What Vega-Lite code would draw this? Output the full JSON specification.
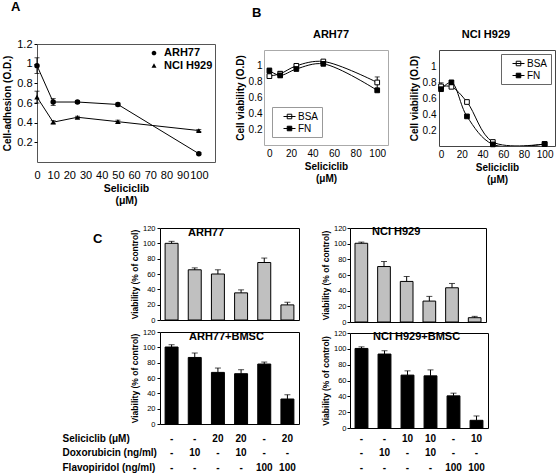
{
  "$schema": "https://vega.github.io/schema/vega-lite/v6.json",
  "padding": {"left": 2, "top": 0, "right": 0, "bottom": 0},
  "spacing": 17,
  "config": {
    "font": "Liberation Sans",
    "view": {"stroke": "black", "strokeWidth": 1},
    "axis": {"grid": false, "domain": false, "labelOverlap": false, "labelColor": "black", "titleColor": "black", "tickColor": "black", "labelFont": "Liberation Sans", "titleFont": "Liberation Sans"},
    "title": {"color": "black", "font": "Liberation Sans"},
    "legend": {"labelFont": "Liberation Sans", "labelColor": "black"}
  },
  "datasets": {
    "adh": [
      {"line": "ARH77", "dose": 0, "v": 0.98, "lo": 0.9, "hi": 1.06},
      {"line": "ARH77", "dose": 10, "v": 0.61, "lo": 0.575, "hi": 0.645},
      {"line": "ARH77", "dose": 25, "v": 0.61, "lo": 0.597, "hi": 0.623},
      {"line": "ARH77", "dose": 50, "v": 0.585, "lo": 0.57, "hi": 0.6},
      {"line": "ARH77", "dose": 100, "v": 0.085, "lo": 0.075, "hi": 0.095},
      {"line": "NCI H929", "dose": 0, "v": 0.66, "lo": 0.6, "hi": 0.72},
      {"line": "NCI H929", "dose": 10, "v": 0.405, "lo": 0.39, "hi": 0.42},
      {"line": "NCI H929", "dose": 25, "v": 0.455, "lo": 0.445, "hi": 0.465},
      {"line": "NCI H929", "dose": 50, "v": 0.41, "lo": 0.395, "hi": 0.425},
      {"line": "NCI H929", "dose": 100, "v": 0.32, "lo": 0.31, "hi": 0.33}
    ],
    "via": [
      {"cell": "ARH77", "series": "BSA", "dose": 0, "v": 0.87, "lo": 0.84, "hi": 0.9},
      {"cell": "ARH77", "series": "BSA", "dose": 10, "v": 0.9},
      {"cell": "ARH77", "series": "BSA", "dose": 25, "v": 1.0, "lo": 0.98, "hi": 1.02},
      {"cell": "ARH77", "series": "BSA", "dose": 50, "v": 1.055},
      {"cell": "ARH77", "series": "BSA", "dose": 100, "v": 0.79, "lo": 0.72, "hi": 0.86},
      {"cell": "ARH77", "series": "FN", "dose": 0, "v": 0.94, "lo": 0.91, "hi": 0.97},
      {"cell": "ARH77", "series": "FN", "dose": 10, "v": 0.88, "lo": 0.85, "hi": 0.93},
      {"cell": "ARH77", "series": "FN", "dose": 25, "v": 0.96},
      {"cell": "ARH77", "series": "FN", "dose": 50, "v": 1.025},
      {"cell": "ARH77", "series": "FN", "dose": 100, "v": 0.69},
      {"cell": "NCI H929", "series": "BSA", "dose": 0, "v": 0.745, "lo": 0.71, "hi": 0.79},
      {"cell": "NCI H929", "series": "BSA", "dose": 10, "v": 0.74},
      {"cell": "NCI H929", "series": "BSA", "dose": 25, "v": 0.55},
      {"cell": "NCI H929", "series": "BSA", "dose": 50, "v": 0.05},
      {"cell": "NCI H929", "series": "BSA", "dose": 100, "v": 0.025},
      {"cell": "NCI H929", "series": "FN", "dose": 0, "v": 0.71},
      {"cell": "NCI H929", "series": "FN", "dose": 10, "v": 0.795, "lo": 0.77, "hi": 0.82},
      {"cell": "NCI H929", "series": "FN", "dose": 25, "v": 0.37},
      {"cell": "NCI H929", "series": "FN", "dose": 50, "v": 0.02},
      {"cell": "NCI H929", "series": "FN", "dose": 100, "v": 0.025}
    ],
    "bars": [
      {"panel": "ARH77", "cond": "-|-|-", "v": 100, "hi": 102.6},
      {"panel": "ARH77", "cond": "-|10|-", "v": 65.5, "hi": 68},
      {"panel": "ARH77", "cond": "20|-|-", "v": 60, "hi": 65.5},
      {"panel": "ARH77", "cond": "20|10|-", "v": 35.4, "hi": 39.3},
      {"panel": "ARH77", "cond": "-|-|100", "v": 75, "hi": 80.8},
      {"panel": "ARH77", "cond": "20|-|100", "v": 19.7, "hi": 23},
      {"panel": "NCI", "cond": "-|-|-", "v": 100.5, "hi": 102},
      {"panel": "NCI", "cond": "-|10|-", "v": 70.8, "hi": 77.2},
      {"panel": "NCI", "cond": "10|-|-", "v": 51.8, "hi": 58.1},
      {"panel": "NCI", "cond": "10|10|-", "v": 26.7, "hi": 32.7},
      {"panel": "NCI", "cond": "-|-|100", "v": 43.7, "hi": 49.2},
      {"panel": "NCI", "cond": "10|-|100", "v": 5.5, "hi": 7.2},
      {"panel": "ARH77B", "cond": "-|-|-", "v": 100.4, "hi": 103.4},
      {"panel": "ARH77B", "cond": "-|10|-", "v": 86.8, "hi": 92.6},
      {"panel": "ARH77B", "cond": "20|-|-", "v": 67.3, "hi": 73},
      {"panel": "ARH77B", "cond": "20|10|-", "v": 65.6, "hi": 70.8},
      {"panel": "ARH77B", "cond": "-|-|100", "v": 78.2, "hi": 80.8},
      {"panel": "ARH77B", "cond": "20|-|100", "v": 32.6, "hi": 38.2},
      {"panel": "NCIB", "cond": "-|-|-", "v": 100.5, "hi": 102.5},
      {"panel": "NCIB", "cond": "-|10|-", "v": 93.4, "hi": 97.6},
      {"panel": "NCIB", "cond": "10|-|-", "v": 66.8, "hi": 72.2},
      {"panel": "NCIB", "cond": "10|10|-", "v": 65.9, "hi": 73.4},
      {"panel": "NCIB", "cond": "-|-|100", "v": 40.6, "hi": 44},
      {"panel": "NCIB", "cond": "10|-|100", "v": 9.7, "hi": 15.2}
    ]
  },
  "vconcat": [
    {
      "bounds": "flush",
      "spacing": 49,
      "hconcat": [
        {
          "width": 178,
          "height": 118,
          "view": {"stroke": "#555"},
          "title": {"text": "A", "anchor": "start", "frame": "group", "dx": -26, "offset": 24, "fontSize": 13, "fontWeight": "bold"},
          "data": {"name": "adh"},
          "encoding": {
            "x": {"field": "dose", "type": "quantitative", "scale": {"domain": [0, 110], "nice": false},
              "axis": {"values": [0, 10, 20, 30, 40, 50, 60, 70, 80, 90, 100], "tickCount": 100, "labelFlush": false, "labelOverlap": false, "ticks": false, "labelPadding": 7, "labelFontSize": 11, "title": ["Seliciclib", "(μM)"], "titleFontSize": 10.5, "titleFontWeight": "bold", "titlePadding": 3, "titleLineHeight": 12}}
          },
          "layer": [
            {"mark": {"type": "line", "color": "black", "strokeWidth": 1},
              "encoding": {"y": {"field": "v", "type": "quantitative", "scale": {"domain": [0, 1.2], "nice": false},
                "axis": {"values": [0.2, 0.4, 0.6, 0.8, 1, 1.2], "tickCount": 100, "format": "~g", "labelOverlap": false, "tickSize": 3, "labelPadding": 2, "labelFontSize": 11, "title": "Cell-adhesion (O.D.)", "titleFontSize": 10, "titleFontWeight": "bold", "titlePadding": 4}},
                "detail": {"field": "line"}}},
            {"mark": {"type": "rule", "color": "black", "strokeWidth": 1},
              "encoding": {"y": {"field": "lo", "type": "quantitative", "axis": {"title": "Cell-adhesion (O.D.)"}}, "y2": {"field": "hi"}}},
            {"mark": {"type": "tick", "color": "black", "orient": "horizontal", "size": 5, "thickness": 1},
              "encoding": {"y": {"field": "lo", "type": "quantitative", "axis": {"title": "Cell-adhesion (O.D.)"}}}},
            {"mark": {"type": "tick", "color": "black", "orient": "horizontal", "size": 5, "thickness": 1},
              "encoding": {"y": {"field": "hi", "type": "quantitative", "axis": {"title": "Cell-adhesion (O.D.)"}}}},
            {"mark": {"type": "point", "filled": true, "color": "black", "size": 30, "opacity": 1},
              "encoding": {"y": {"field": "v", "type": "quantitative", "axis": {"title": "Cell-adhesion (O.D.)"}},
                "shape": {"field": "line", "type": "nominal", "scale": {"domain": ["ARH77", "NCI H929"], "range": ["circle", "triangle-up"]}, "legend": null}}},
            {"data": {"values": []},
              "mark": {"type": "point", "filled": true, "color": "black", "opacity": 1},
              "encoding": {"shape": {"field": "line", "type": "nominal",
                "scale": {"domain": ["ARH77", "NCI H929"], "range": ["M-1,0H1M0.36,0A0.36,0.36,0,1,1,-0.36,0A0.36,0.36,0,1,1,0.36,0Z", "M-1,0H1M0,-0.42L0.38,0.28H-0.38Z"]},
                "legend": {"orient": "top-right", "offset": 2, "padding": 0, "title": null, "labelFontSize": 11, "labelFontWeight": "bold", "symbolSize": 169, "symbolStrokeWidth": 1, "symbolStrokeColor": "black", "symbolFillColor": "black", "labelOffset": 3, "rowPadding": 1}}}}
          ],
          "resolve": {"scale": {"shape": "independent"}}
        },
        {
          "bounds": "flush",
          "spacing": 5,
          "title": {"text": "B", "anchor": "start", "frame": "group", "dx": -12, "offset": 9, "fontSize": 13, "fontWeight": "bold"},
          "vconcat": [
            {"width": 1, "height": 1, "data": {"values": []}, "mark": "text", "encoding": {}, "view": {"stroke": null}},
            {
              "bounds": "flush",
              "spacing": 51,
              "hconcat": [
                {
                  "width": 124,
                  "height": 95,
                  "view": {"stroke": "#aaa"},
                  "title": {"text": "ARH77", "fontSize": 11, "fontWeight": "bold", "offset": 10, "dx": 5},
                  "data": {"name": "via"},
                  "transform": [{"filter": "datum.cell === 'ARH77'"}],
                  "encoding": {
                    "x": {"field": "dose", "type": "quantitative", "scale": {"domain": [-5, 110], "nice": false},
                      "axis": {"values": [0, 20, 40, 60, 80, 100], "tickCount": 100, "labelFlush": false, "labelOverlap": false, "ticks": false, "labelPadding": 3, "labelFontSize": 10, "title": ["Seliciclib", "(μM)"], "titleFontSize": 10, "titleFontWeight": "bold", "titlePadding": 3, "titleLineHeight": 12}}
                  },
                  "layer": [
                    {"mark": {"type": "line", "color": "black", "strokeWidth": 1, "interpolate": "catmull-rom", "clip": true},
                      "encoding": {"y": {"field": "v", "type": "quantitative", "scale": {"domain": [0, 1.2], "nice": false},
                        "axis": {"values": [0.2, 0.4, 0.6, 0.8, 1], "tickCount": 100, "format": "~g", "labelOverlap": false, "ticks": false, "labelPadding": 2, "labelFontSize": 10, "title": "Cell viability (O.D)", "titleFontSize": 10, "titleFontWeight": "bold", "titlePadding": 3}},
                        "detail": {"field": "series"}}},
                    {"mark": {"type": "rule", "color": "black", "strokeWidth": 1},
                      "encoding": {"y": {"field": "lo", "type": "quantitative", "axis": {"title": "Cell viability (O.D)"}}, "y2": {"field": "hi"}}},
                    {"mark": {"type": "tick", "color": "black", "orient": "horizontal", "size": 5, "thickness": 1},
                      "encoding": {"y": {"field": "lo", "type": "quantitative", "axis": {"title": "Cell viability (O.D)"}}}},
                    {"mark": {"type": "tick", "color": "black", "orient": "horizontal", "size": 5, "thickness": 1},
                      "encoding": {"y": {"field": "hi", "type": "quantitative", "axis": {"title": "Cell viability (O.D)"}}}},
                    {"mark": {"type": "point", "shape": "square", "filled": true, "stroke": "black", "strokeWidth": 1, "size": 22, "opacity": 1},
                      "encoding": {"y": {"field": "v", "type": "quantitative", "axis": {"title": "Cell viability (O.D)"}},
                        "fill": {"field": "series", "type": "nominal", "scale": {"domain": ["BSA", "FN"], "range": ["white", "black"]},
                          "legend": {"orient": "bottom-left", "offset": 8, "title": null, "padding": 3, "symbolOffset": 8, "strokeColor": "#999", "fillColor": "white", "labelFontSize": 10, "symbolType": "M-1,0H1M-0.38,-0.38H0.38V0.38H-0.38Z", "symbolSize": 144, "symbolStrokeColor": "black", "symbolStrokeWidth": 1, "rowPadding": -2, "labelOffset": 2, "labelExpr": "datum.label + '\u00a0\u00a0\u00a0\u00a0\u00a0\u00a0\u00a0'"}}}}
                  ]
                },
                {
                  "width": 116,
                  "height": 96,
                  "view": {"stroke": "#444"},
                  "title": {"text": "NCI H929", "fontSize": 11, "fontWeight": "bold", "offset": 10, "dx": -11},
                  "data": {"name": "via"},
                  "transform": [{"filter": "datum.cell === 'NCI H929'"}],
                  "encoding": {
                    "x": {"field": "dose", "type": "quantitative", "scale": {"domain": [-2, 110], "nice": false},
                      "axis": {"values": [0, 20, 40, 60, 80, 100], "tickCount": 100, "labelFlush": false, "labelOverlap": false, "ticks": false, "labelPadding": 3, "labelFontSize": 10, "title": ["Seliciclib", "(μM)"], "titleFontSize": 10, "titleFontWeight": "bold", "titlePadding": 3, "titleLineHeight": 12}}
                  },
                  "layer": [
                    {"mark": {"type": "line", "color": "black", "strokeWidth": 1, "interpolate": "catmull-rom", "clip": true},
                      "encoding": {"y": {"field": "v", "type": "quantitative", "scale": {"domain": [0, 1.2], "nice": false},
                        "axis": {"values": [0.2, 0.4, 0.6, 0.8, 1], "tickCount": 100, "format": "~g", "labelOverlap": false, "ticks": false, "labelPadding": 3, "labelFontSize": 10, "title": "Cell viability (O.D)", "titleFontSize": 10, "titleFontWeight": "bold", "titlePadding": 3}},
                        "detail": {"field": "series"}}},
                    {"mark": {"type": "rule", "color": "black", "strokeWidth": 1},
                      "encoding": {"y": {"field": "lo", "type": "quantitative", "axis": {"title": "Cell viability (O.D)"}}, "y2": {"field": "hi"}}},
                    {"mark": {"type": "tick", "color": "black", "orient": "horizontal", "size": 5, "thickness": 1},
                      "encoding": {"y": {"field": "lo", "type": "quantitative", "axis": {"title": "Cell viability (O.D)"}}}},
                    {"mark": {"type": "tick", "color": "black", "orient": "horizontal", "size": 5, "thickness": 1},
                      "encoding": {"y": {"field": "hi", "type": "quantitative", "axis": {"title": "Cell viability (O.D)"}}}},
                    {"mark": {"type": "point", "shape": "square", "filled": true, "stroke": "black", "strokeWidth": 1, "size": 22, "opacity": 1},
                      "encoding": {"y": {"field": "v", "type": "quantitative", "axis": {"title": "Cell viability (O.D)"}},
                        "fill": {"field": "series", "type": "nominal", "scale": {"domain": ["BSA", "FN"], "range": ["white", "black"]},
                          "legend": {"orient": "top-right", "offset": 4, "title": null, "padding": 3, "symbolOffset": 8, "strokeColor": "#666", "fillColor": "white", "labelFontSize": 10, "symbolType": "M-1,0H1M-0.38,-0.38H0.38V0.38H-0.38Z", "symbolSize": 144, "symbolStrokeColor": "black", "symbolStrokeWidth": 1, "rowPadding": -2, "labelOffset": 2, "labelExpr": "datum.label + '\u00a0\u00a0\u00a0\u00a0\u00a0\u00a0\u00a0\u00a0\u00a0\u00a0\u00a0\u00a0'"}}}}
                  ]
                }
              ]
            }
          ]
        }
      ]
    },
    {
      "spacing": 20,
      "hconcat": [
        {"width": 3, "height": 1, "data": {"values": []}, "mark": "text", "encoding": {}, "view": {"stroke": "transparent"}},
        {
          "bounds": "flush",
          "spacing": 12,
          "title": {"text": "C", "anchor": "start", "frame": "group", "dx": -67, "offset": -22, "fontSize": 13, "fontWeight": "bold"},
          "vconcat": [
            {
              "width": 139,
              "height": 92,
              "title": {"text": "ARH77", "anchor": "start", "frame": "group", "dx": 28, "offset": -14, "fontSize": 11, "fontWeight": "bold"},
              "data": {"name": "bars"},
              "transform": [{"filter": "datum.panel === 'ARH77'"}],
              "encoding": {"x": {"field": "cond", "type": "nominal", "sort": null, "scale": {"paddingInner": 0.44, "paddingOuter": 0.22}, "axis": {"labels": false, "ticks": false, "title": null}}},
              "layer": [
                {"mark": {"type": "bar", "fill": "#c0c0c0", "stroke": "black", "strokeWidth": 1},
                  "encoding": {"y": {"field": "v", "type": "quantitative", "scale": {"domain": [0, 120], "nice": false},
                    "axis": {"values": [0, 20, 40, 60, 80, 100, 120], "tickCount": 100, "labelOverlap": false, "tickSize": 3, "labelPadding": 2, "labelFontSize": 7.5, "title": "Viability (% of control)", "titleFontSize": 8.5, "titleFontWeight": "bold", "titlePadding": 3}}}},
                {"mark": {"type": "rule", "color": "black", "strokeWidth": 1},
                  "encoding": {"y": {"field": "v", "type": "quantitative", "axis": {"title": "Viability (% of control)"}}, "y2": {"field": "hi"}}},
                {"mark": {"type": "tick", "color": "black", "orient": "horizontal", "size": 6, "thickness": 1},
                  "encoding": {"y": {"field": "hi", "type": "quantitative", "axis": {"title": "Viability (% of control)"}}}}
              ]
            },
            {
              "width": 139,
              "height": 92,
              "title": {"text": "ARH77+BMSC", "anchor": "start", "frame": "group", "dx": 29, "offset": -14, "fontSize": 11, "fontWeight": "bold"},
              "data": {"name": "bars"},
              "transform": [{"filter": "datum.panel === 'ARH77B'"}],
              "encoding": {"x": {"field": "cond", "type": "nominal", "sort": null, "scale": {"paddingInner": 0.44, "paddingOuter": 0.22},
                "axis": {"labelExpr": "split(datum.value, '|')", "labelAngle": 0, "labelFontSize": 10, "labelFontWeight": "bold", "labelLineHeight": 14.5, "labelPadding": 9, "labelBaseline": "top", "ticks": false,
                  "title": ["Seliciclib (μM)", "Doxorubicin (ng/ml)", "Flavopiridol (ng/ml)"], "titleX": -98, "titleY": 9, "titleAlign": "left", "titleBaseline": "top", "titleAngle": 0, "titleFontSize": 10, "titleFontWeight": "bold", "titleLineHeight": 14.5}}},
              "layer": [
                {"mark": {"type": "bar", "fill": "black", "stroke": "black", "strokeWidth": 1},
                  "encoding": {"y": {"field": "v", "type": "quantitative", "scale": {"domain": [0, 120], "nice": false},
                    "axis": {"values": [0, 20, 40, 60, 80, 100, 120], "tickCount": 100, "labelOverlap": false, "tickSize": 3, "labelPadding": 2, "labelFontSize": 7.5, "title": "Viability (% of control)", "titleFontSize": 8.5, "titleFontWeight": "bold", "titlePadding": 3}}}},
                {"mark": {"type": "rule", "color": "black", "strokeWidth": 1},
                  "encoding": {"y": {"field": "v", "type": "quantitative", "axis": {"title": "Viability (% of control)"}}, "y2": {"field": "hi"}}},
                {"mark": {"type": "tick", "color": "black", "orient": "horizontal", "size": 6, "thickness": 1},
                  "encoding": {"y": {"field": "hi", "type": "quantitative", "axis": {"title": "Viability (% of control)"}}}}
              ]
            }
          ]
        },
        {
          "bounds": "flush",
          "spacing": 11,
          "vconcat": [
            {
              "width": 136,
              "height": 94,
              "title": {"text": "NCI H929", "anchor": "start", "frame": "group", "dx": 22, "offset": -13, "fontSize": 11, "fontWeight": "bold"},
              "data": {"name": "bars"},
              "transform": [{"filter": "datum.panel === 'NCI'"}],
              "encoding": {"x": {"field": "cond", "type": "nominal", "sort": null, "scale": {"paddingInner": 0.44, "paddingOuter": 0.22}, "axis": {"labels": false, "ticks": false, "title": null}}},
              "layer": [
                {"mark": {"type": "bar", "fill": "#c0c0c0", "stroke": "black", "strokeWidth": 1},
                  "encoding": {"y": {"field": "v", "type": "quantitative", "scale": {"domain": [0, 120], "nice": false},
                    "axis": {"values": [0, 20, 40, 60, 80, 100, 120], "tickCount": 100, "labelOverlap": false, "tickSize": 3, "labelPadding": 1, "labelFontSize": 7.5, "title": "Viability (% of control)", "titleFontSize": 8.5, "titleFontWeight": "bold", "titlePadding": 3}}}},
                {"mark": {"type": "rule", "color": "black", "strokeWidth": 1},
                  "encoding": {"y": {"field": "v", "type": "quantitative", "axis": {"title": "Viability (% of control)"}}, "y2": {"field": "hi"}}},
                {"mark": {"type": "tick", "color": "black", "orient": "horizontal", "size": 6, "thickness": 1},
                  "encoding": {"y": {"field": "hi", "type": "quantitative", "axis": {"title": "Viability (% of control)"}}}}
              ]
            },
            {
              "width": 138,
              "height": 95,
              "title": {"text": "NCI H929+BMSC", "anchor": "start", "frame": "group", "dx": 23, "offset": -13, "fontSize": 11, "fontWeight": "bold"},
              "data": {"name": "bars"},
              "transform": [{"filter": "datum.panel === 'NCIB'"}],
              "encoding": {"x": {"field": "cond", "type": "nominal", "sort": null, "scale": {"paddingInner": 0.44, "paddingOuter": 0.22},
                "axis": {"labelExpr": "split(datum.value, '|')", "labelAngle": 0, "labelFontSize": 10, "labelFontWeight": "bold", "labelLineHeight": 14.5, "labelPadding": 5, "labelBaseline": "top", "ticks": false, "title": null}}},
              "layer": [
                {"mark": {"type": "bar", "fill": "black", "stroke": "black", "strokeWidth": 1},
                  "encoding": {"y": {"field": "v", "type": "quantitative", "scale": {"domain": [0, 120], "nice": false},
                    "axis": {"values": [0, 20, 40, 60, 80, 100, 120], "tickCount": 100, "labelOverlap": false, "tickSize": 3, "labelPadding": 1, "labelFontSize": 7.5, "title": "Viability (% of control)", "titleFontSize": 8.5, "titleFontWeight": "bold", "titlePadding": 3}}}},
                {"mark": {"type": "rule", "color": "black", "strokeWidth": 1},
                  "encoding": {"y": {"field": "v", "type": "quantitative", "axis": {"title": "Viability (% of control)"}}, "y2": {"field": "hi"}}},
                {"mark": {"type": "tick", "color": "black", "orient": "horizontal", "size": 6, "thickness": 1},
                  "encoding": {"y": {"field": "hi", "type": "quantitative", "axis": {"title": "Viability (% of control)"}}}}
              ]
            }
          ]
        }
      ]
    }
  ]
}
